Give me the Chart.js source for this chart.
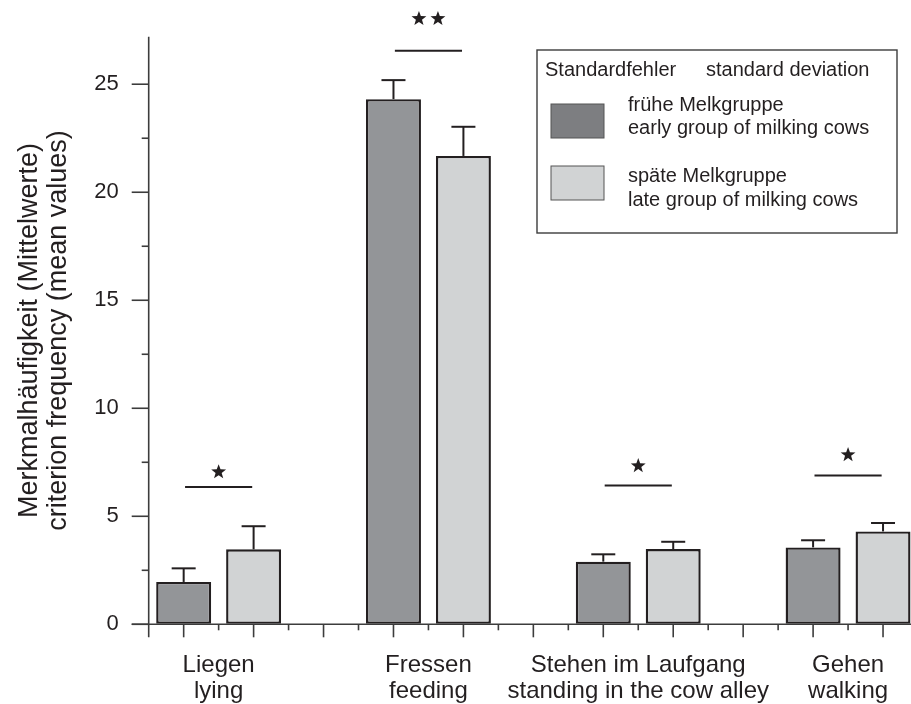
<!DOCTYPE html>
<html>
<head>
<meta charset="utf-8">
<title>Merkmalhäufigkeit</title>
<script src="https://cdn.jsdelivr.net/npm/chart.js@4/dist/chart.umd.min.js"></script>
<style>
  html, body { margin: 0; padding: 0; background: #fff; overflow: hidden; }
  #wrap { width: 920px; height: 704px; }
</style>
</head>
<body>
<div id="wrap"><canvas id="c" width="920" height="704"></canvas></div>
<script>
// Behaviour categories (German / English)
const groupsDe = ['Liegen', 'Fressen', 'Stehen im Laufgang', 'Gehen'];
const groupsEn = ['lying', 'feeding', 'standing in the cow alley', 'walking'];

// Mean values and standard deviations per milking group
const earlyMean = [1.96, 24.31, 2.90, 3.56];
const earlyErr  = [0.63, 0.88, 0.34, 0.33];
const lateMean  = [3.47, 21.68, 3.48, 4.30];
const lateErr   = [1.07, 1.35, 0.34, 0.39];

// Significance markers: bracket height, number of stars, star height
const sigLine  = [6.35, 26.55, 6.43, 6.89];
const sigStars = [1, 2, 1, 1];
const starAt   = [7.09, 28.07, 7.37, 7.88];

// Y axis range and tick labels
const Y_MAX = 27.2;
const yTickLabels = [0, 5, 10, 15, 20, 25];

// Legend texts
const legendHead = ['Standardfehler', 'standard deviation'];
const legendEarly = ['frühe Melkgruppe', 'early group of milking cows'];
const legendLate  = ['späte Melkgruppe', 'late group of milking cows'];

const INK = '#231f20';
const AXIS = '#3c3c3c';
const EARLY_FILL = '#939598';
const LATE_FILL = '#d1d3d4';
const FONT = '"Liberation Sans", Arial, Helvetica, sans-serif';

// Each group takes three slots on the category axis: early, late, gap
const SLOTS_PER_GROUP = 3;
const nSlots = groupsDe.length * SLOTS_PER_GROUP - 1;
const slotLabels = [];
const earlyData = [];
const lateData = [];
for (let i = 0; i < nSlots; i++) {
  const g = Math.floor(i / SLOTS_PER_GROUP), k = i % SLOTS_PER_GROUP;
  slotLabels.push(groupsEn[g] + (k === 0 ? ' early' : k === 1 ? ' late' : ''));
  earlyData.push(k === 0 ? earlyMean[g] : null);
  lateData.push(k === 1 ? lateMean[g] : null);
}

function starPath(ctx, cx, cy, ro, ri) {
  ctx.beginPath();
  for (let i = 0; i < 10; i++) {
    const r = i % 2 === 0 ? ro : ri;
    const a = -Math.PI / 2 + i * Math.PI / 5;
    const px = cx + r * Math.cos(a), py = cy + r * Math.sin(a);
    if (i === 0) ctx.moveTo(px, py); else ctx.lineTo(px, py);
  }
  ctx.closePath();
  ctx.fill();
}

const decorations = {
  id: 'decorations',
  afterDatasetsDraw(chart) {
    const { ctx, chartArea: ca, scales: { x, y } } = chart;
    const y0 = y.getPixelForValue(0);
    const slotW = x.getPixelForValue(1) - x.getPixelForValue(0);
    const line = (x1, y1, x2, y2) => { ctx.beginPath(); ctx.moveTo(x1, y1); ctx.lineTo(x2, y2); ctx.stroke(); };

    ctx.save();
    // axes
    ctx.strokeStyle = AXIS;
    ctx.lineWidth = 1.6;
    line(ca.left, y.getPixelForValue(Y_MAX), ca.left, y0 + 13);
    line(ca.left - 17, y0, ca.right, y0);
    // y ticks: major every 5, minor at 2.5 in between
    for (let v = 0; v <= Y_MAX + 1e-9; v += 2.5) {
      const py = y.getPixelForValue(v);
      const len = Math.abs(v % 5) < 1e-9 ? 17 : 7;
      line(ca.left - len, py, ca.left, py);
    }
    // x ticks: long at slot centres, short at slot boundaries
    for (let i = 0; i < nSlots; i++) {
      const cx = x.getPixelForValue(i);
      line(cx, y0, cx, y0 + 13);
      if (i < nSlots - 1) line(cx + slotW / 2, y0, cx + slotW / 2, y0 + 6);
    }

    // error bars (upper whisker only)
    ctx.strokeStyle = INK;
    ctx.lineWidth = 2;
    groupsDe.forEach((_, g) => {
      [[earlyMean[g], earlyErr[g], g * SLOTS_PER_GROUP], [lateMean[g], lateErr[g], g * SLOTS_PER_GROUP + 1]]
        .forEach(([m, e, slot]) => {
          const px = x.getPixelForValue(slot);
          const top = y.getPixelForValue(m);
          const cap = y.getPixelForValue(m + e);
          line(px, top, px, cap);
          line(px - 12, cap, px + 12, cap);
        });
    });

    // significance brackets and stars
    ctx.fillStyle = INK;
    groupsDe.forEach((_, g) => {
      const a = x.getPixelForValue(g * SLOTS_PER_GROUP);
      const b = x.getPixelForValue(g * SLOTS_PER_GROUP + 1);
      const mid = (a + b) / 2;
      const py = y.getPixelForValue(sigLine[g]);
      line(mid - 0.48 * slotW, py, mid + 0.48 * slotW, py);
      const sy = y.getPixelForValue(starAt[g]);
      for (let s = 0; s < sigStars[g]; s++) {
        starPath(ctx, mid + (s - (sigStars[g] - 1) / 2) * 19, sy + 0.8, 7.8, 3.2);
      }
    });

    // group labels under the axis
    ctx.fillStyle = INK;
    ctx.font = '24px ' + FONT;
    ctx.textAlign = 'center';
    ctx.textBaseline = 'alphabetic';
    groupsDe.forEach((_, g) => {
      const mid = (x.getPixelForValue(g * SLOTS_PER_GROUP) + x.getPixelForValue(g * SLOTS_PER_GROUP + 1)) / 2;
      ctx.fillText(groupsDe[g], mid, y0 + 48);
      ctx.fillText(groupsEn[g], mid, y0 + 74);
    });

    // legend box
    const L = 537, T = 50, W = 360, H = 183;
    ctx.strokeStyle = AXIS;
    ctx.lineWidth = 1.4;
    ctx.strokeRect(L, T, W, H);
    ctx.font = '20px ' + FONT;
    ctx.textAlign = 'left';
    ctx.fillStyle = INK;
    ctx.fillText(legendHead[0], L + 8, T + 26);
    ctx.fillText(legendHead[1], L + 169, T + 26);
    const swatch = (top, fill) => {
      ctx.fillStyle = fill;
      ctx.fillRect(L + 14, top, 53, 34);
      ctx.strokeStyle = '#555';
      ctx.lineWidth = 1;
      ctx.strokeRect(L + 14, top, 53, 34);
    };
    swatch(T + 54, '#7d7e81');
    swatch(T + 116, LATE_FILL);
    ctx.fillStyle = INK;
    ctx.fillText(legendEarly[0], L + 91, T + 61);
    ctx.fillText(legendEarly[1], L + 91, T + 84);
    ctx.fillText(legendLate[0], L + 91, T + 132);
    ctx.fillText(legendLate[1], L + 91, T + 156);
    ctx.restore();
  }
};

new Chart(document.getElementById('c'), {
  type: 'bar',
  data: {
    labels: slotLabels,
    datasets: [
      { label: legendEarly[0], data: earlyData, backgroundColor: EARLY_FILL },
      { label: legendLate[0], data: lateData, backgroundColor: LATE_FILL }
    ]
  },
  options: {
    responsive: false,
    animation: false,
    events: [],
    layout: { padding: { left: 0, right: 2, top: 36.7, bottom: 0 } },
    datasets: {
      bar: {
        grouped: false,
        categoryPercentage: 1,
        barPercentage: 0.786,
        borderColor: INK,
        borderWidth: 2.4,
        borderSkipped: false
      }
    },
    plugins: { legend: { display: false }, tooltip: { enabled: false } },
    scales: {
      x: {
        type: 'category',
        offset: true,
        grid: { display: false },
        border: { display: false },
        ticks: { display: false },
        afterFit: (s) => { s.height = 79.7; }
      },
      y: {
        min: 0,
        max: Y_MAX,
        border: { display: false },
        grid: { display: true, drawOnChartArea: false, drawTicks: true, tickLength: 17, color: 'rgba(0,0,0,0)' },
        ticks: {
          stepSize: 5,
          padding: 13,
          color: INK,
          font: { family: FONT, size: 22 },
          callback: (v) => (yTickLabels.includes(v) ? String(v) : '')
        },
        title: {
          display: true,
          text: ['Merkmalhäufigkeit (Mittelwerte)', 'criterion frequency (mean values)'],
          color: INK,
          font: { family: FONT, size: 27, lineHeight: 1.04 },
          padding: { top: 16, bottom: 0 }
        },
        afterFit: (s) => { s.width = 148.7; }
      }
    }
  },
  plugins: [decorations]
});
</script>
</body>
</html>
